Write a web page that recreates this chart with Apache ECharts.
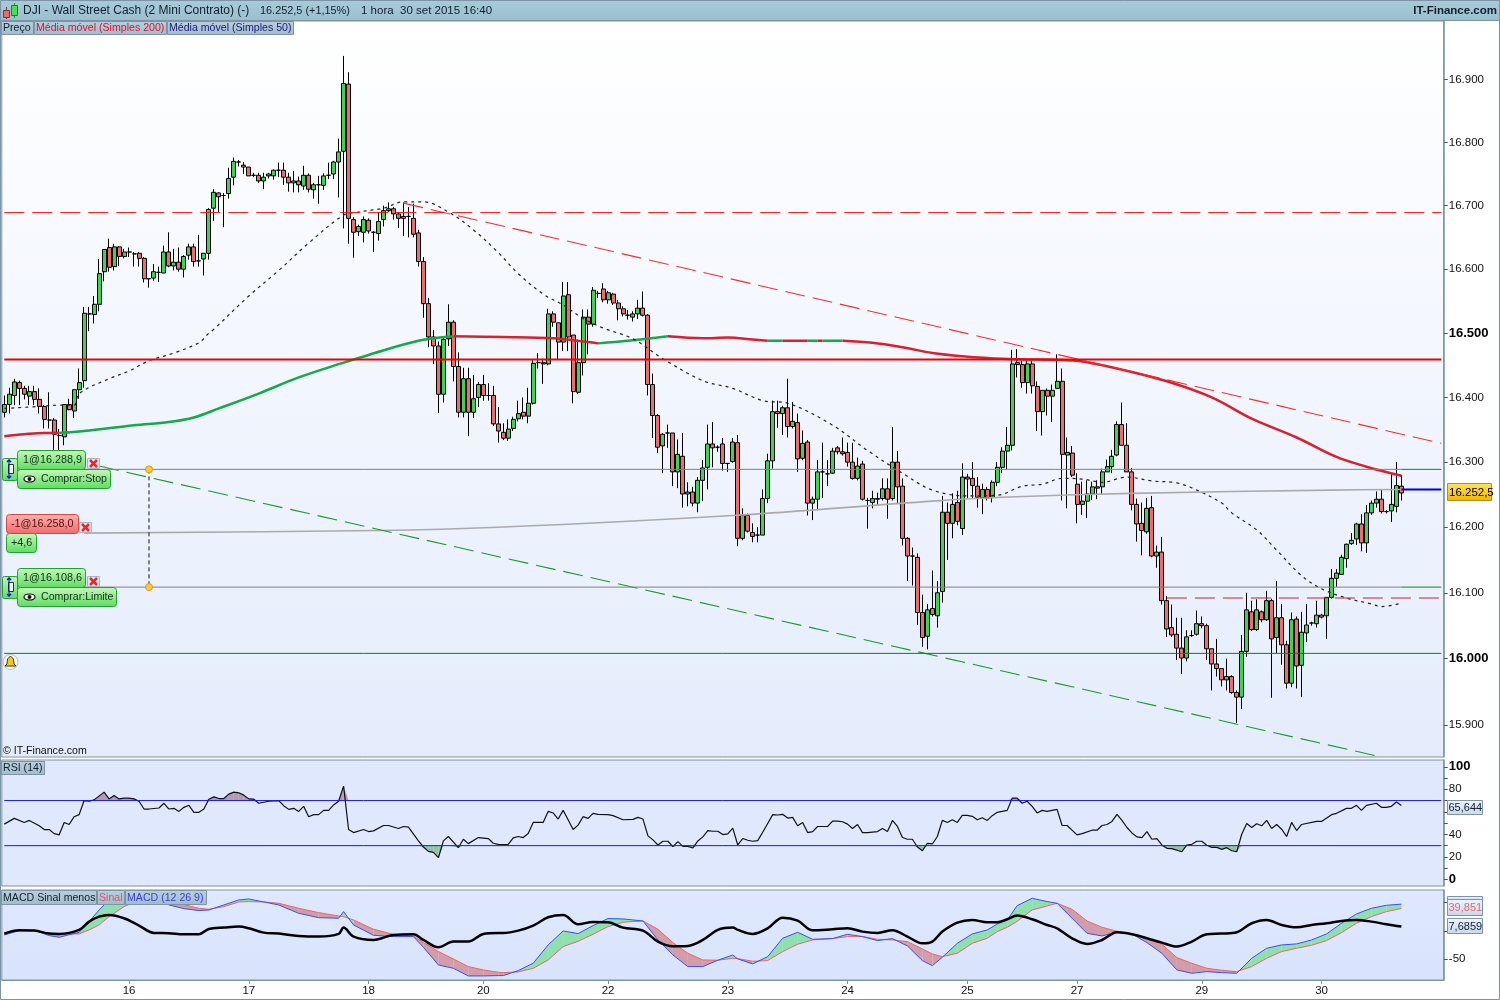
<!DOCTYPE html>
<html><head><meta charset="utf-8">
<style>html,body{margin:0;padding:0;background:#fff}#c{width:1500px;height:1000px}</style>
<script src="https://cdn.jsdelivr.net/npm/echarts@6/dist/echarts.min.js"></script></head>
<body><div id="c"></div>
<script>
const opens=[
16377,16389,16403,16423,16414,16402,16409,16397,16386,16365,
16365,16341,16339,16389,16379,16412,16426,16530,16529,16545,
16596,16634,16604,16635,16620,16627,16624,16625,16617,16585,
16586,16595,16594,16627,16605,16611,16600,16622,16635,16613,
16616,16625,16696,16720,16716,16719,16745,16769,16764,16761,
16748,16748,16739,16747,16747,16756,16756,16745,16736,16739,
16731,16748,16725,16733,16732,16748,16750,16769,16786,16893,
16678,16659,16658,16677,16658,16656,16678,16692,16695,16687,
16680,16683,16680,16657,16612,16546,16494,16480,16405,16491,
16517,16448,16377,16429,16377,16400,16420,16403,16403,16359,
16346,16337,16352,16367,16377,16371,16391,16454,16454,16452,
16530,16516,16486,16560,16497,16408,16454,16525,16514,16562,
16569,16552,16561,16547,16538,16528,16525,16530,16539,16528,
16420,16372,16325,16345,16345,16285,16309,16251,16254,16237,
16272,16292,16328,16323,16328,16298,16301,16330,16183,16218,
16192,16188,16188,16244,16302,16378,16375,16384,16355,16361,
16306,16331,16237,16243,16285,16282,16283,16322,16316,16315,
16300,16275,16297,16241,16238,16244,16244,16259,16244,16300,
16263,16183,16156,16154,16070,16034,16076,16065,16102,16223,
16206,16238,16198,16277,16275,16263,16245,16258,16246,16269,
16292,16317,16326,16454,16451,16423,16452,16417,16378,16411,
16402,16414,16425,16311,16314,16266,16235,16240,16251,16262,
16262,16285,16293,16311,16358,16326,16285,16235,16206,16193,
16230,16156,16162,16088,16047,16037,16016,16001,16035,16037,
16053,16050,16015,15992,15985,15968,15973,15949,15942,16011,
16071,16044,16071,16059,16088,16032,16062,16021,15963,16060,
15990,16039,16054,16053,16066,16065,16093,16122,16128,16152,
16175,16182,16205,16176,16222,16237,16243,16224,16225,16232,
16263];
const closes=[
16389,16405,16424,16414,16405,16409,16397,16386,16366,16365,
16343,16341,16389,16381,16412,16423,16531,16530,16545,16593,
16631,16603,16635,16620,16627,16627,16624,16617,16585,16585,
16596,16595,16627,16605,16611,16600,16620,16635,16612,16613,
16625,16694,16721,16714,16716,16743,16770,16769,16761,16747,
16748,16739,16745,16750,16756,16756,16745,16736,16739,16733,
16748,16726,16733,16733,16747,16748,16769,16785,16894,16680,
16658,16667,16678,16660,16658,16675,16692,16695,16687,16680,
16683,16683,16655,16612,16546,16494,16480,16405,16490,16517,
16448,16377,16429,16377,16398,16420,16403,16403,16359,16348,
16337,16351,16366,16375,16371,16391,16453,16454,16452,16530,
16517,16486,16558,16494,16409,16454,16525,16514,16567,16562,
16552,16563,16547,16538,16530,16528,16530,16539,16528,16420,
16372,16323,16343,16345,16285,16312,16251,16254,16237,16272,
16291,16328,16322,16323,16298,16298,16331,16183,16218,16194,
16186,16188,16244,16302,16378,16375,16384,16355,16363,16305,
16329,16237,16243,16285,16285,16282,16317,16316,16313,16300,
16275,16294,16243,16241,16244,16243,16259,16243,16300,16262,
16183,16156,16156,16070,16032,16074,16067,16100,16223,16206,
16235,16209,16277,16274,16264,16246,16258,16245,16269,16292,
16317,16326,16452,16451,16423,16452,16418,16378,16411,16402,
16411,16425,16312,16315,16280,16235,16240,16251,16262,16260,
16285,16293,16309,16358,16326,16285,16235,16205,16195,16229,
16156,16162,16088,16045,16036,16016,16001,16033,16035,16053,
16050,16015,15992,15985,15968,15973,15949,15942,16011,16074,
16044,16074,16059,16088,16030,16062,16021,15963,16059,15989,
16040,16051,16054,16066,16063,16093,16122,16130,16154,16174,
16180,16205,16176,16222,16237,16243,16224,16224,16235,16264,
16252.5];
const lows=[
16369,16375,16388,16388,16397,16388,16388,16375,16352,16352,
16318,16318,16326,16380,16368,16398,16415,16503,16515,16534,
16581,16596,16598,16605,16617,16619,16604,16604,16579,16571,
16582,16580,16594,16603,16598,16596,16587,16615,16604,16604,
16590,16615,16676,16690,16666,16711,16732,16762,16750,16747,
16745,16736,16726,16743,16741,16745,16733,16722,16721,16721,
16725,16721,16711,16703,16725,16742,16742,16713,16664,16640,
16618,16652,16642,16656,16627,16645,16667,16690,16678,16665,
16652,16650,16650,16604,16524,16478,16452,16376,16392,16480,
16425,16369,16369,16340,16368,16385,16395,16395,16356,16330,
16334,16333,16348,16363,16366,16360,16389,16445,16421,16450,
16510,16460,16472,16472,16391,16405,16434,16467,16510,16555,
16548,16546,16544,16520,16526,16521,16518,16522,16526,16403,
16337,16314,16283,16322,16263,16260,16230,16232,16232,16223,
16240,16258,16292,16316,16287,16285,16299,16171,16180,16192,
16177,16177,16188,16237,16290,16353,16342,16338,16352,16285,
16303,16218,16211,16226,16245,16263,16282,16312,16310,16293,
16273,16272,16241,16198,16229,16235,16241,16213,16241,16237,
16172,16118,16111,16051,16018,16014,16064,16047,16085,16150,
16183,16203,16188,16245,16245,16230,16220,16241,16238,16263,
16283,16289,16318,16431,16415,16406,16406,16348,16341,16372,
16362,16414,16241,16229,16277,16206,16219,16214,16242,16243,
16250,16285,16283,16309,16326,16285,16226,16178,16157,16190,
16154,16138,16082,16033,16033,15998,15977,15996,16033,16035,
16046,15998,15952,15973,15958,15952,15947,15903,15924,16003,
16042,16042,16055,16057,15941,16008,15991,15955,15957,15955,
15942,16025,16050,16047,16061,16030,16091,16109,16127,16138,
16173,16173,16163,16161,16219,16230,16221,16221,16208,16223,
16241];
const highs=[
16403,16415,16429,16426,16418,16418,16418,16414,16388,16408,
16368,16351,16389,16398,16412,16445,16541,16541,16558,16616,
16631,16648,16640,16636,16632,16634,16627,16627,16619,16585,
16608,16604,16637,16658,16632,16634,16622,16640,16640,16654,
16625,16696,16726,16721,16720,16760,16776,16772,16769,16761,
16752,16752,16752,16752,16757,16768,16768,16752,16755,16746,
16763,16751,16736,16747,16751,16768,16771,16806,16938,16912,
16682,16670,16683,16680,16660,16690,16700,16705,16698,16690,
16705,16698,16703,16662,16619,16555,16505,16487,16495,16545,
16520,16470,16446,16446,16435,16424,16435,16422,16418,16385,
16360,16366,16370,16395,16400,16415,16458,16469,16460,16538,
16534,16516,16580,16580,16497,16490,16537,16537,16572,16566,
16578,16566,16563,16552,16542,16536,16534,16552,16565,16530,
16437,16374,16345,16358,16345,16335,16345,16269,16262,16277,
16303,16358,16362,16326,16337,16298,16337,16342,16229,16221,
16206,16200,16258,16313,16395,16395,16387,16429,16393,16375,
16349,16334,16247,16303,16330,16303,16322,16325,16338,16330,
16330,16307,16302,16245,16256,16253,16275,16275,16354,16317,
16275,16185,16169,16160,16097,16083,16134,16118,16248,16238,
16252,16256,16298,16282,16300,16277,16267,16262,16272,16300,
16323,16354,16474,16475,16457,16457,16457,16425,16411,16414,
16420,16467,16445,16338,16325,16283,16270,16272,16270,16272,
16290,16304,16319,16363,16392,16360,16291,16244,16238,16245,
16248,16172,16185,16095,16082,16062,16062,16043,16043,16073,
16064,16053,16015,16030,15985,16000,15975,15952,16036,16100,
16088,16090,16073,16103,16091,16118,16083,16027,16070,16064,
16071,16083,16056,16088,16068,16093,16136,16136,16158,16175,
16191,16207,16220,16234,16241,16255,16258,16226,16283,16300,
16280];

const slotCount=289;
const dayTicks={25:'16',49:'17',73:'18',96:'20',121:'22',145:'23',169:'24',193:'25',215:'27',240:'29',264:'30'};
const priceTicks=[15900,16000,16100,16200,16300,16400,16500,16600,16700,16800,16900];
const priceBold=[16000,16500];
const rsiLabels=[0,20,40,60,80,100];
const rsiTicks=[0,10,20,30,40,50,60,70,80,90,100];
const macdTicks=[-50,0,50];

const ma200Green=[[11,16345],[16,16348],[26,16357],[33,16362],[38,16369],[43,16383],[51,16406],[59,16431],[68,16454],[73,16466],[83,16488],[90,16495],[null,null],
[119,16484],[125,16488],[133,16495],[null,null],[153,16488],[156,16488],[null,null],[161,16488],[163,16488],[null,null],[164,16488],[168,16488]];
const ma200Red=[[0,16340],[4,16343],[8,16345],[11,16345],[null,null],[90,16495],[100,16494],[110,16492],[117,16486],[119,16484],[null,null],
[133,16495],[140,16492],[145,16493],[150,16490],[153,16488],[null,null],[156,16488],[161,16488],[null,null],[163,16488],[164,16488],[null,null],
[168,16488],[174,16485],[180,16478],[186,16469],[192,16464],[200,16460],[212,16458],[215,16457],[223,16445],[233,16425],[242,16400],[250,16367],[259,16338],[267,16308],[273,16293],[280,16279]];
const ma50=[[0,16383],[7,16386],[11,16388],[14,16388],[15,16406],[21,16429],[25,16441],[29,16457],[34,16469],[39,16485],[41,16500],[42,16506],[49,16558],[55,16598],[61,16641],[68,16685],[71,16690],[76,16696],[80,16706],[84,16706],[89,16690],[94,16662],[99,16626],[103,16593],[108,16561],[112,16544],[116,16523],[120,16508],[126,16491],[132,16460],[140,16426],[146,16414],[152,16395],[157,16391],[166,16357],[173,16318],[180,16283],[186,16257],[193,16248],[199,16249],[204,16263],[208,16266],[212,16275],[216,16274],[220,16269],[225,16277],[230,16271],[235,16268],[239,16257],[244,16237],[246,16222],[251,16196],[255,16165],[260,16126],[264,16106],[269,16092],[274,16083],[276,16079],[280,16084]];
const positionLine=[[16,16191],[75,16195],[99,16200],[146,16218],[186,16240],[200,16246],[226,16252],[266,16257],[280,16258]];
const trendRed=[[80,16704],[288,16329]];
const trendGreen=[[19,16294],[276,15852]];
const levelResistDash=16689, levelSolidRed=16459, levelGreen=16008;
const orderStop=16288.9, orderLimit=16108.6, lastPrice=16258, shortDash=16092;

const rsi=[[0,49.1],[2,54.2],[4,50.6],[5,52.4],[7,47.6],[8,44.3],[9,44.3],[10,40.7],[11,39.6],[12,50.6],[13,48.8],[14,55.7],[15,57.5],[16,70],[17,69.4],[18,70.6],[20,77.5],[21,71.5],[22,74.5],[23,71.5],[24,72.1],[25,72.1],[26,71.5],[27,69.4],[28,62.5],[29,62.5],[31,63.4],[32,67.6],[33,62.5],[34,63.1],[35,60.4],[36,64],[37,65.8],[38,59.6],[39,59.6],[40,62.5],[41,71.2],[42,73.3],[43,71.8],[44,71.8],[45,75.7],[46,77.5],[47,76.9],[48,74.8],[49,71.5],[50,71.2],[51,67.6],[53,69.4],[55,70],[56,65.5],[57,62.2],[58,63.1],[59,60.4],[60,64.9],[61,55.7],[62,57.5],[63,57.5],[64,61.3],[65,61.3],[66,66.1],[67,69.4],[68,82.8],[69,44.3],[70,41.6],[72,44.3],[73,42.5],[74,43.1],[76,47.9],[77,47.9],[79,45.2],[80,47],[81,46.4],[83,34.2],[84,28.8],[85,24.9],[86,24],[87,19.3],[88,34.2],[89,38.1],[91,28.2],[92,35.7],[93,31.8],[95,37.2],[97,36.3],[98,32.1],[99,31.2],
[100,30.9],[101,31.2],[102,36.9],[103,38.1],[104,37.2],[105,40.7],[106,50.6],[108,50.6],[109,60.4],[110,59],[111,53.6],[112,61.3],[113,53],[114,44.3],[115,48.2],[116,55.7],[117,54.2],[118,58.7],[119,57.8],[121,57.5],[122,56.6],[124,53],[126,53.3],[127,55.1],[128,53.6],[129,38.7],[130,35.1],[131,30.6],[132,33.9],[133,33.9],[134,29.1],[135,33.6],[136,29.4],[137,29.4],[138,27.9],[139,34.2],[140,37.8],[141,43.4],[142,42.8],[143,42.8],[144,39.8],[145,40.4],[146,45.5],[147,30.6],[148,36.3],[149,34.8],[150,33.9],[151,34.5],[152,41.9],[153,49.7],[154,57.5],[155,57.2],[156,57.8],[157,54.5],[158,55.1],[159,47.6],[160,50.6],[161,41.6],[162,42.5],[163,47],[165,47],[166,51.8],[167,51.8],[168,51.2],[169,49.1],[170,45.2],[171,48.8],[172,41.6],[173,41.6],[175,42.5],[176,45.2],[177,42.5],[178,52.4],[179,47],[180,37.2],[181,35.7],[182,35.7],[183,28.8],[184,25.5],[185,32.1],[186,31.5],[187,38.1],[188,52.4],[189,50.6],[190,53],[191,50.6],[192,56.9],[193,56.9],[194,56],[195,53],[196,54.8],[197,52.4],[198,56.6],[199,59.6],
[201,61.3],[202,72.1],[203,72.1],[204,67.6],[205,69.4],[206,64.9],[207,59],[208,61.3],[209,60.4],[211,62.2],[212,47.9],[213,47.9],[215,39.6],[216,40.7],[218,43.7],[219,43.7],[220,47.9],[221,48.8],[222,51.5],[223,57.8],[224,52.4],[225,46.1],[226,41.3],[227,37.8],[228,37.2],[229,42.5],[230,35.7],[231,36.3],[232,30.6],[233,27.6],[234,27.3],[236,24.6],[237,30.6],[238,31.2],[239,33.9],[240,33.9],[241,30.3],[242,28.5],[243,28.5],[244,26.7],[245,28.2],[246,25.5],[247,24.6],[248,40.1],[249,49.7],[250,46.1],[251,49.4],[252,47.6],[253,52.4],[254,45.2],[255,48.8],[256,44.6],[257,38.1],[258,50.6],[259,43.4],[260,48.8],[263,51.5],[264,51.5],[266,57.5],[267,58.7],[269,63.1],[270,63.1],[271,65.8],[272,61.3],[273,65.8],[275,67.6],[276,64],[277,64],[278,64.9],[279,68.8],[280,65.644]];
const rsiHigh=70, rsiLow=30;

const macdBars=[0,3,6,9,11,15,17,19,21,24,27,30,33,36,39,41,44,47,49,52,55,59,63,67,68,70,74,78,82,84,87,90,93,96,99,
100,103,106,109,112,115,118,121,124,128,131,134,137,140,143,146,147,150,153,156,159,162,166,169,172,175,178,181,184,186,188,191,194,197,199,
201,203,206,209,211,214,217,220,223,226,229,232,235,238,241,244,247,250,253,256,259,262,265,268,271,274,277,280];
const macdLine=[-7.1,.6,1.2,-8.3,-11.2,-2.4,16.5,37.2,55,66.8,69.7,60.9,46.1,39.6,36.1,37.2,46.1,55,56.7,51.4,46.1,31.3,23.6,22.5,34.3,10.6,-7.7,-10,-10,-29,-60.3,-66.2,-79.8,-79.8,-79.2,
-79.2,-70.3,-57.3,-24.8,0,-4.7,9.5,21.9,21.3,17.7,-16,-42.6,-63.2,-63.2,-52,-42.6,-49.6,-58.5,-45.5,-13,-2.4,-14.8,-13.6,-5.9,-10,-17.1,-13.6,-26.6,-52.6,-61.5,-46.7,-21.9,-5.3,1.8,12.4,
19.5,44.9,57.9,52,49.1,22.5,-4.1,-8.9,-1.8,-5.3,-20.7,-39.6,-69.1,-75.1,-72.1,-73.9,-75.1,-48.5,-30.7,-24.8,-23,-16,-5.3,13.6,30.1,40.2,45.5,47.54];
const signalLine=[-3,0,.6,-4.1,-5.3,-5.3,1.8,10.6,25.4,43.1,55,57.9,50.2,46.7,40.2,38.4,43.1,51.4,52,51.4,49.1,40.2,32.5,26.6,25.4,19.5,3,-5.9,-8.9,-20.7,-36.6,-49.6,-63.2,-69.1,-73.3,
-73.9,-72.7,-66.2,-51.4,-27.8,-18.3,-5.9,7.7,15.4,17.7,3,-20.7,-39.6,-51.4,-52,-48.5,-49.1,-53.8,-52.6,-36.6,-23.6,-16,-13.6,-10,-10,-14.8,-16,-18.9,-31.9,-40.8,-45.5,-39.6,-21.9,-13,-1.2,
6.5,17.1,37.2,44.3,49.1,38.4,17.7,6.5,-.6,-5.3,-11.8,-23.6,-47.3,-57.3,-66.2,-69.7,-72.1,-63.2,-48.5,-36.6,-30.7,-25.4,-17.1,-3,13.6,25.4,34.3,39.851];
const macdDiff=[-4.7,1.2,.6,-4.7,-5.3,1.8,16.5,25.4,28.4,22.5,9.5,-3.5,-4.1,-5.9,-5.9,3.5,5.9,7.7,4.7,-3,-4.7,-8.9,-10,-5.3,5.9,-10,-16,-7.1,-5.9,-16,-29,-18.9,-18.9,-5.3,-3.5,
-3.5,.6,9.5,24.2,28.4,11.8,16,15.4,5.9,.6,-18.9,-27.2,-26.6,-16,1.8,5.9,1.8,-5.3,4.7,23.6,18.3,1.2,3,4.7,-1.2,-3.5,1.2,-10,-21.9,-18.9,-1.2,14.8,19.5,15.4,15.4,
20.7,27.2,20.7,10.6,4.7,-13,-23,-16,-2.4,-5.9,-13,-20.7,-27.8,-18.9,-5.9,-4.7,-2.4,13.6,19.5,10.6,6.5,10.6,13.6,17.7,19.5,16.5,11.8,7.69];

const categories=Array.from({length:slotCount},(_,i)=>dayTicks[i]||'');
const candleData=opens.map((o,i)=>[o,closes[i],lows[i],highs[i]]);
const pairs=(a,b)=>a.map((x,i)=>[x,b[i]]);
const tickSel=i=>dayTicks[i]!==undefined;
const AXC='#7d94a6';
const fmtPrice=v=>(v/1000).toFixed(3);
const vGrad=(a,b)=>({type:'linear',x:0,y:0,x2:0,y2:1,colorStops:[{offset:0,color:a},{offset:1,color:b}]});
const lastSlot=slotCount-1;

function hLine(name,g,y,color,width,type){
  return lineSeries(name,[[0,y],[lastSlot,y]],color,width,type,g,6);
}
function lineSeries(name,data,color,width,type,g,z,extra){
  return Object.assign({name,type:'line',xAxisIndex:g,yAxisIndex:g,data,showSymbol:false,silent:true,
    connectNulls:false,lineStyle:{color,width,type:type||'solid'},itemStyle:{color},z:z||5},extra||{});
}
function polyBetween(name,rows,colorFn,g){
  return {name,type:'custom',xAxisIndex:g,yAxisIndex:g,silent:true,z:3,clip:true,data:rows,
    encode:{x:[0,3],y:[1,2,4,5]},
    renderItem:(p,api)=>{
      const x0=api.value(0),a0=api.value(1),b0=api.value(2),x1=api.value(3),a1=api.value(4),b1=api.value(5);
      return {type:'polygon',shape:{points:[api.coord([x0,a0]),api.coord([x1,a1]),api.coord([x1,b1]),api.coord([x0,b0])]},
        style:{fill:colorFn(a0,b0,a1,b1),stroke:null}};
    }};
}
const rsiHighRows=[],rsiLowRows=[];
for(let i=0;i+1<rsi.length;i++){
  const [x0,v0]=rsi[i],[x1,v1]=rsi[i+1];
  if(v0>rsiHigh||v1>rsiHigh) rsiHighRows.push([x0,Math.max(v0,rsiHigh),rsiHigh,x1,Math.max(v1,rsiHigh),rsiHigh]);
  if(v0<rsiLow||v1<rsiLow) rsiLowRows.push([x0,Math.min(v0,rsiLow),rsiLow,x1,Math.min(v1,rsiLow),rsiLow]);
}
const macdRows=[];
for(let i=0;i+1<macdBars.length;i++){
  macdRows.push([macdBars[i],macdLine[i],signalLine[i],macdBars[i+1],macdLine[i+1],signalLine[i+1]]);
}
const SM={smooth:0.35};
const series=[
  {name:'Preço',type:'candlestick',xAxisIndex:0,yAxisIndex:0,data:candleData,barWidth:4.5,z:4,silent:true,
   itemStyle:{color:'#46cf56',color0:'#e96f6f',borderColor:'#000',borderColor0:'#000',borderColorDoji:'#000',borderWidth:1}},
  lineSeries('Média móvel (Simples 200) alta',ma200Green,'#16a84c',2.5,'solid',0,5,SM),
  lineSeries('Média móvel (Simples 200)',ma200Red,'#d8202e',2.5,'solid',0,5,SM),
  lineSeries('Média móvel (Simples 50)',ma50,'#222',1.2,[3,4],0,5,SM),
  lineSeries('Posição',positionLine,'#aaa',1.6,'solid',0,5,SM),
  lineSeries('Tendência alta',trendRed,'#f53030',1.1,[20,8],0,5),
  lineSeries('Tendência baixa',trendGreen,'#1a9a2a',1.1,[20,8],0,5),
  hLine('Nível',0,levelResistDash,'#f01010',1,[20,8]),
  hLine('Nível vermelho',0,levelSolidRed,'#f00000',2,'solid'),
  hLine('Nível verde',0,levelGreen,'#008a00',1,'solid'),
  lineSeries('Ordem Stop',[[3,orderStop],[280,orderStop]],'#808080',1,'solid',0,5),
  lineSeries('Ordem Stop fim',[[280,orderStop],[288,orderStop]],'#0a8a0a',1,'solid',0,5),
  lineSeries('Ordem Limite',[[3,orderLimit],[280,orderLimit]],'#808080',1,'solid',0,5),
  lineSeries('Ordem Limite fim',[[280,orderLimit],[288,orderLimit]],'#0a8a0a',1,'solid',0,5),
  lineSeries('Último',[[280,lastPrice],[288,lastPrice]],'#0000e0',2,'solid',0,5),
  lineSeries('Suporte curto',[[233,shortDash],[288,shortDash]],'#cc2030',1.1,[20,8],0,5),
  lineSeries('Ligação ordens',[[29,orderStop],[29,orderLimit]],'#111',1,[4,3],0,7,{
    showSymbol:true,showAllSymbol:true,symbol:'circle',symbolSize:7,itemStyle:{color:'#ffc935',borderColor:'#e09a18',borderWidth:1}}),

  polyBetween('RSI sobrecompra',rsiHighRows,()=>'#b89aa8',1),
  polyBetween('RSI sobrevenda',rsiLowRows,()=>'#8fc4a6',1),
  lineSeries('RSI (14)',rsi,'#111',1.2,'solid',1,5),
  hLine('RSI 70',1,rsiHigh,'#1a1ad8',1,'solid'),
  hLine('RSI 30',1,rsiLow,'#1a1ad8',1,'solid'),

  polyBetween('MACD área',macdRows,(a0,b0,a1,b1)=>(a0+a1>=b0+b1)?'#90dfae':'#d49ca8',2),
  lineSeries('Sinal',pairs(macdBars,signalLine),'#e86868',1,'solid',2,5),
  lineSeries('MACD (12 26 9)',pairs(macdBars,macdLine),'#3a50e8',1,'solid',2,5),
  lineSeries('MACD Sinal menos',pairs(macdBars,macdDiff),'#000',2.5,'solid',2,6,SM),
];

const xCommon=i=>({type:'category',gridIndex:i,data:categories,boundaryGap:true,
  axisLine:{show:false,onZero:false},axisTick:{show:false},axisLabel:{show:false},splitLine:{show:false}});
const xAxes=[xCommon(0),xCommon(1),Object.assign(xCommon(2),{
  axisLine:{show:true,onZero:false,lineStyle:{color:AXC}},
  axisTick:{show:true,interval:tickSel,alignWithLabel:true,length:4,lineStyle:{color:AXC}},
  axisLabel:{show:true,interval:tickSel,hideOverlap:false,color:'#111',fontFamily:'Liberation Sans',fontSize:11.5,margin:5}
})];

const yBase={position:'right',splitLine:{show:false},axisLine:{show:true,onZero:false,lineStyle:{color:AXC,width:1.5}},
  axisTick:{show:true,length:4,lineStyle:{color:'#556'}}};
const yAxes=[
 Object.assign({},yBase,{type:'log',logBase:10,gridIndex:0,min:15852,max:16994,
   axisTick:{show:true,length:4,lineStyle:{color:'#556'},customValues:priceTicks},
   axisLabel:{customValues:priceTicks,margin:5,color:'#111',fontFamily:'Liberation Sans',fontSize:11.5,
     formatter:v=>priceBold.includes(v)?'{b|'+fmtPrice(v)+'}':fmtPrice(v),
     rich:{b:{fontWeight:'bold',fontSize:13,color:'#000',fontFamily:'Liberation Sans'}}}}),
 Object.assign({},yBase,{type:'value',gridIndex:1,min:-5.8,max:106,
   axisTick:{show:true,length:4,lineStyle:{color:'#556'},customValues:rsiTicks},
   axisLabel:{customValues:rsiLabels,margin:5,color:'#111',fontFamily:'Liberation Sans',fontSize:11.5,
     formatter:v=>(v===0||v===100)?'{b|'+v+'}':''+v,
     rich:{b:{fontWeight:'bold',fontSize:13,color:'#000',fontFamily:'Liberation Sans'}}}}),
 Object.assign({},yBase,{type:'value',gridIndex:2,min:-87,max:72.6,
   axisTick:{show:true,length:4,lineStyle:{color:'#556'},customValues:macdTicks},
   axisLabel:{customValues:macdTicks,margin:5,color:'#111',fontFamily:'Liberation Sans',fontSize:11.5}}),
];

const F='Liberation Sans';
const gfx=[];
const rect=(x,y,w,h,fill,stroke,r,z)=>gfx.push({type:'rect',silent:true,z:z||50,shape:{x,y,width:w,height:h,r:r||0},style:{fill,stroke:stroke||null,lineWidth:1}});
const txt=(x,y,t,color,size,extra)=>gfx.push(Object.assign({type:'text',silent:true,z:80,x,y,style:Object.assign({text:t,fill:color,font:(size||12)+'px "'+F+'"',textVerticalAlign:'middle',textAlign:'left'},extra||{})}));

rect(0,0,1500,20,vGrad('#a9cbd9','#9bbfce'),null,0,40);
gfx.push({type:'line',silent:true,z:41,shape:{x1:0,y1:20.5,x2:1500,y2:20.5},style:{stroke:'#7d94a6',lineWidth:1}});
rect(0.5,0.5,1499,999,'transparent','#7d94a6',0,41);
gfx.push({type:'line',silent:true,z:61,shape:{x1:6.5,y1:7,x2:6.5,y2:19},style:{stroke:'#a03030'}});
rect(3.5,10.5,6,7,'#e96f6f','#803030',0,62);
gfx.push({type:'line',silent:true,z:61,shape:{x1:14.5,y1:3,x2:14.5,y2:18},style:{stroke:'#2a8a2a'}});
rect(11.5,5.5,6,10,'#46e056','#208020',0,62);
txt(23,11,'DJI - Wall Street Cash (2 Mini Contrato) (-)','#10202c',12);
txt(260,11,'16.252,5 (+1,15%)','#10202c',10.9);
txt(361,11,'1 hora  30 set 2015 16:40','#10202c',11.5);
txt(1497,11,'IT-Finance.com','#10202c',12,{textAlign:'right',font:'bold 11.5px "'+F+'"'});

const tab=(x,w,y,h,t,color)=>{rect(x+.5,y+.5,w,h,vGrad('#b9cfdd','#a2bbcc'),'#7d94a6',0,50);txt(x+2,y+h/2+1,t,color,10.6);};
tab(1,32,21,13,'Preço','#10202c');
tab(34,132,21,13,'Média móvel (Simples 200)','#e0102a');
tab(167,126,21,13,'Média móvel (Simples 50)','#1a1a7a');
tab(1,43,761,13,'RSI (14)','#10202c');
tab(1,95,890,14,'MACD Sinal menos','#10202c');
tab(97,27,890,14,'Sinal','#e85060');
tab(125,81,890,14,'MACD (12 26 9)','#3a40d8');
txt(3,751,'© IT-Finance.com','#111',10.6);

const G=vGrad('#c6f8bc','#5edc60'), GB='#22a030', R=vGrad('#fcb4b0','#f06a6a');
const xIcon=(x,y)=>{
  rect(x+.5,y+.5,12,10,'#dfe7f2','#a8b4c4',0,55);
  gfx.push({type:'polyline',silent:true,z:56,shape:{points:[[x+3,y+2],[x+10,y+9]]},style:{stroke:'#f02424',lineWidth:2.5,fill:null}});
  gfx.push({type:'polyline',silent:true,z:56,shape:{points:[[x+10,y+2],[x+3,y+9]]},style:{stroke:'#f02424',lineWidth:2.5,fill:null}});
};
const arrows=(x,y)=>{
  rect(x+.5,y+.5,15,22,G,GB,2,54);
  rect(x+6.5,y+6.5,5,9,'#f4f8ff','#333',0,55);
  gfx.push({type:'polyline',silent:true,z:56,shape:{points:[[x+5,y+4],[x+7,y+2],[x+9,y+4]]},style:{stroke:'#0000e0',lineWidth:1.5,fill:null}});
  gfx.push({type:'polyline',silent:true,z:56,shape:{points:[[x+5,y+18],[x+7,y+20],[x+9,y+18]]},style:{stroke:'#0000e0',lineWidth:1.5,fill:null}});
  gfx.push({type:'line',silent:true,z:56,shape:{x1:x+7,y1:y+3,x2:x+7,y2:y+20},style:{stroke:'#0000e0',lineWidth:1}});
};
const eye=(x,y)=>{
  gfx.push({type:'ellipse',silent:true,z:60,shape:{cx:x,cy:y,rx:5.5,ry:3},style:{fill:'#fff',stroke:'#111',lineWidth:1.2}});
  gfx.push({type:'circle',silent:true,z:61,shape:{cx:x,cy:y,r:2},style:{fill:'#111'}});
};
const order=(y,price,kind,w2)=>{
  arrows(2,y+8);
  rect(17.5,y+.5,68,19,G,GB,3,55);
  txt(23,y+10,price,'#103018',10.8);
  xIcon(87,y+8);
  rect(17.5,y+19.5,w2,19,G,GB,3,55);
  eye(29.5,y+29);
  txt(41,y+29,kind,'#103018',10.6);
};
order(450,'1@16.288,9','Comprar:Stop',93);
order(568,'1@16.108,6','Comprar:Limite',99);
rect(6.5,514.5,72,19,R,'#d84848',3,55);
txt(11,524,'-1@16.258,0','#501010',10.8);
xIcon(79,522);
rect(6.5,533.5,30,19,G,GB,3,55);
txt(11,543,'+4,6','#103018',10.8);
gfx.push({type:'circle',silent:true,z:55,shape:{cx:10.5,cy:662,r:7.5},style:{fill:'#f4f6fa',stroke:'#b8c0cc'}});
gfx.push({type:'polygon',silent:true,z:56,shape:{points:[[10.5,656],[13.5,659],[14,664],[16,666],[5,666],[7,664],[7.5,659]]},style:{fill:'#f2c820',stroke:'#4a3a08',lineWidth:1}});

rect(1447.5,483.5,44,17,vGrad('#ffe45c','#f2b400'),'#a89030',0,70);
txt(1449,492.5,'16.252,5','#000',11.5);
const vtag=(y,h,t,color)=>{rect(1447.5,y+.5,35,h,vGrad('#f0f4fb','#c8d6ee'),AXC,0,70);txt(1448.5,y+h/2+1,t,color,11);};
vtag(896,4,'','#3a40d8');
vtag(800,14,'65,644','#10202c');
vtag(899,16,'39,851','#e86868');
vtag(918,15,'7,6859','#10202c');

const option={
  animation:false,
  backgroundColor:'#ffffff',
  tooltip:{show:false},
  graphic:{elements:gfx},
  grid:[
    {left:1.8,width:1442,top:21,height:736,show:true,backgroundColor:vGrad('#ffffff','#e4ecfc'),borderColor:AXC,borderWidth:1},
    {left:1.8,width:1442,top:760,height:126,show:true,backgroundColor:'#dfe8fd',borderColor:AXC,borderWidth:1},
    {left:1.8,width:1442,top:890,height:90,show:true,backgroundColor:vGrad('#dfe8fd','#d8e4fc'),borderColor:AXC,borderWidth:1},
  ],
  xAxis:xAxes,yAxis:yAxes,series
};
const chart=echarts.init(document.getElementById('c'),null,{renderer:'canvas',width:1500,height:1000});
chart.setOption(option);
</script></body></html>
